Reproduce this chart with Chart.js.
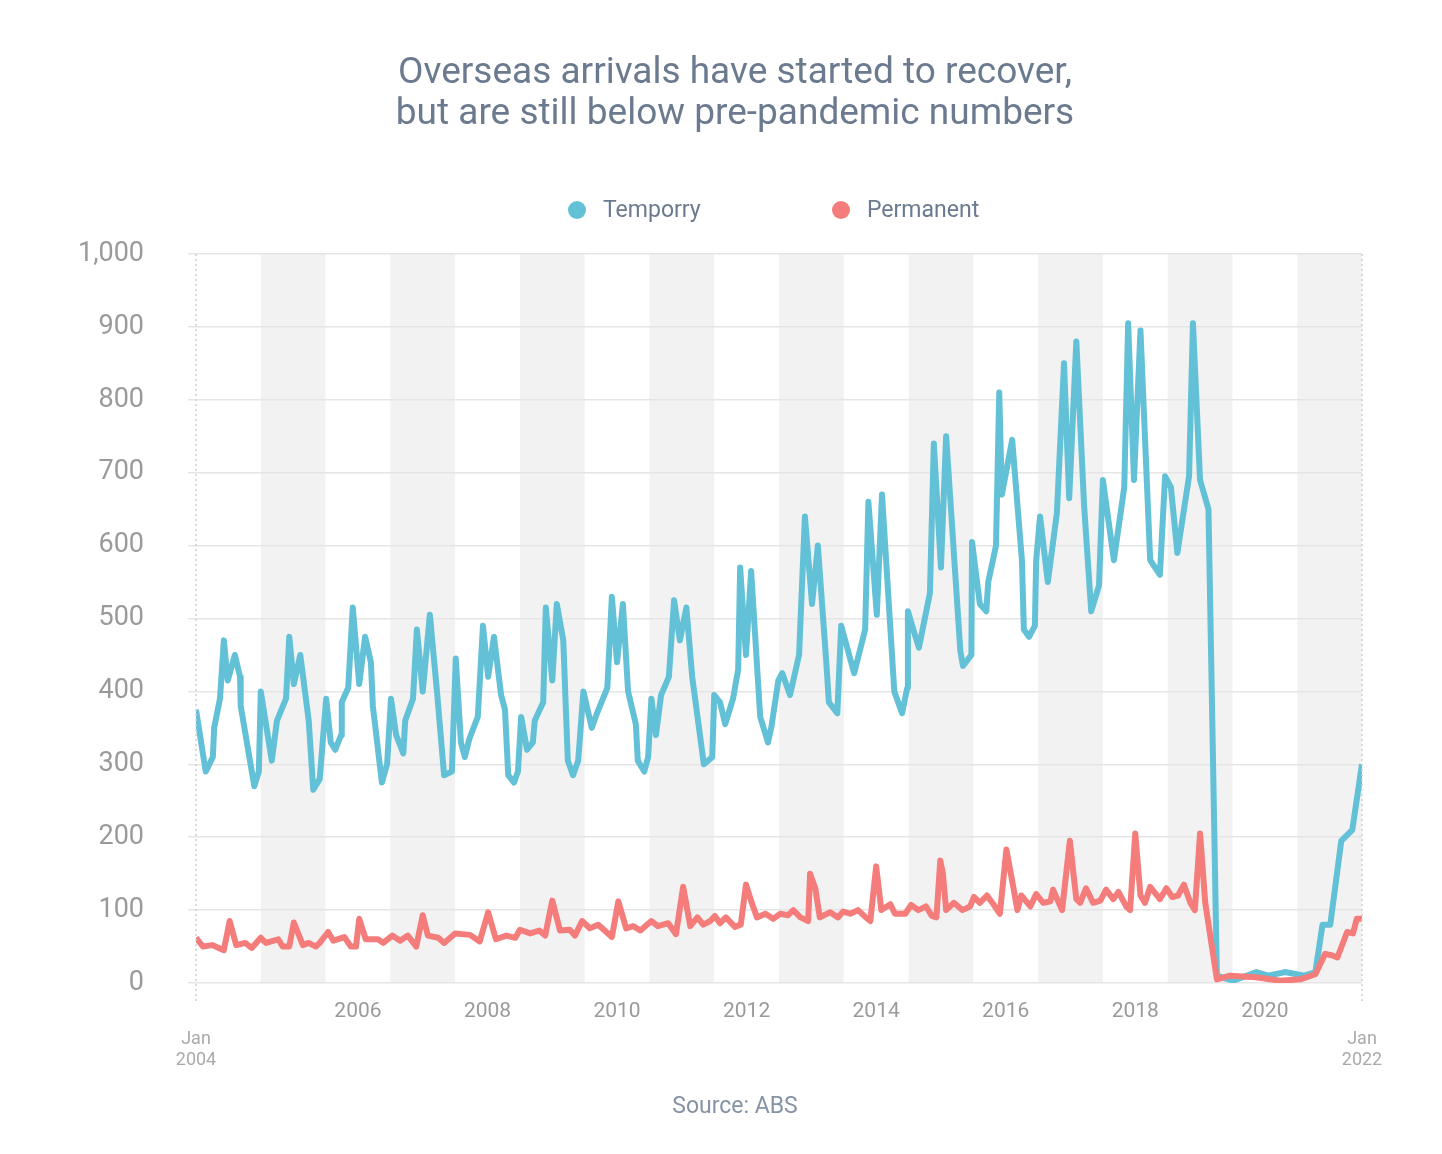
<!DOCTYPE html>
<html>
<head>
<meta charset="utf-8">
<script src="https://cdn.jsdelivr.net/npm/chart.js@4"></script>
<style>
  body { margin: 0; background: #fff; font-family: Roboto, sans-serif; }
  #wrap { position: relative; width: 1442px; height: 1154px; }
  canvas { position: absolute; left: 0; top: 0; }
  .t { position: absolute; color: #6b7a8f; white-space: nowrap; }
  #title { left: 0; width: 1470px; top: 50px; text-align: center; font-size: 37px; line-height: 41px; }
  .dot { position: absolute; width: 18px; height: 18px; border-radius: 50%; }
  .leg { font-size: 23px; top: 196px; }
  #source { left: 0; width: 1470px; top: 1092px; text-align: center; font-size: 23px; color: #8593a4; }
</style>
</head>
<body>
<div id="wrap">
  <canvas id="chart" width="1442" height="1154"></canvas>
  <div class="t" id="title">Overseas arrivals have started to recover,<br>but are still below pre-pandemic numbers</div>
  <div class="dot" style="left:568px;top:201px;background:#62c1d6"></div>
  <div class="t leg" style="left:603px">Temporry</div>
  <div class="dot" style="left:832px;top:201px;background:#f47d7b"></div>
  <div class="t leg" style="left:867px">Permanent</div>
  <div class="t" id="source">Source: ABS</div>
</div>
<script>
// Temporary arrivals (thousands), time in decimal years
const tempYears = [2004.00,2004.15,2004.26,2004.28,2004.37,2004.43,2004.49,2004.60,2004.68,2004.69,2004.90,2004.97,2005.00,2005.17,2005.25,2005.39,2005.44,2005.51,2005.61,2005.74,2005.81,2005.91,2006.01,2006.08,2006.15,2006.24,2006.25,2006.35,2006.42,2006.52,2006.61,2006.70,2006.73,2006.87,2006.95,2007.01,2007.09,2007.20,2007.23,2007.35,2007.41,2007.50,2007.61,2007.72,2007.83,2007.95,2008.01,2008.09,2008.15,2008.22,2008.35,2008.43,2008.51,2008.60,2008.71,2008.77,2008.82,2008.91,2008.97,2009.02,2009.11,2009.20,2009.23,2009.36,2009.40,2009.50,2009.57,2009.67,2009.74,2009.82,2009.90,2009.98,2010.11,2010.19,2010.35,2010.42,2010.50,2010.59,2010.67,2010.79,2010.82,2010.92,2010.98,2011.03,2011.10,2011.18,2011.30,2011.38,2011.47,2011.57,2011.66,2011.84,2011.97,2012.00,2012.09,2012.17,2012.29,2012.37,2012.40,2012.49,2012.57,2012.71,2012.83,2012.88,2012.99,2013.05,2013.17,2013.31,2013.40,2013.51,2013.60,2013.73,2013.77,2013.90,2013.96,2014.16,2014.33,2014.38,2014.51,2014.59,2014.78,2014.90,2014.98,2014.99,2015.09,2015.16,2015.33,2015.39,2015.50,2015.58,2015.80,2015.84,2015.97,2015.98,2016.10,2016.20,2016.23,2016.35,2016.40,2016.44,2016.60,2016.75,2016.78,2016.86,2016.95,2016.97,2017.03,2017.15,2017.29,2017.40,2017.48,2017.59,2017.71,2017.82,2017.94,2018.00,2018.17,2018.33,2018.39,2018.48,2018.58,2018.73,2018.88,2018.96,2019.05,2019.15,2019.33,2019.39,2019.50,2019.63,2019.76,2020.01,2020.37,2020.55,2020.81,2021.11,2021.28,2021.39,2021.51,2021.68,2021.85,2022.00];
const tempValues = [375,290,310,350,390,470,415,450,420,380,270,290,400,305,360,390,475,410,450,360,265,280,390,330,320,340,385,405,515,410,475,440,380,275,300,390,340,315,360,390,485,400,505,400,285,290,445,330,310,335,365,490,420,475,395,375,285,275,290,365,320,330,360,385,515,415,520,470,305,285,305,400,350,370,405,530,440,520,400,355,305,290,310,390,340,395,420,525,470,515,420,300,310,395,385,355,390,430,570,450,565,365,330,350,415,425,395,450,640,520,600,440,385,370,490,425,485,660,505,670,400,370,405,510,480,460,535,740,570,750,455,435,450,605,520,510,550,600,810,670,745,580,485,475,490,580,640,550,645,850,665,880,655,510,545,690,580,680,905,690,895,580,560,695,680,590,695,905,690,650,10,3,15,10,15,10,15,80,80,195,210,300];

// Permanent arrivals (thousands)
const permYears = [2004.00,2004.11,2004.25,2004.43,2004.52,2004.62,2004.76,2004.86,2005.00,2005.08,2005.27,2005.34,2005.44,2005.51,2005.65,2005.74,2005.85,2005.91,2006.04,2006.12,2006.29,2006.39,2006.47,2006.52,2006.62,2006.81,2006.89,2007.03,2007.15,2007.27,2007.40,2007.50,2007.58,2007.74,2007.83,2008.00,2008.23,2008.38,2008.51,2008.63,2008.79,2008.93,2009.00,2009.16,2009.30,2009.39,2009.50,2009.62,2009.77,2009.85,2009.96,2010.08,2010.21,2010.42,2010.52,2010.64,2010.75,2010.86,2011.03,2011.13,2011.29,2011.41,2011.52,2011.63,2011.74,2011.83,2011.94,2012.01,2012.09,2012.18,2012.32,2012.41,2012.49,2012.58,2012.66,2012.79,2012.91,2013.02,2013.14,2013.22,2013.33,2013.45,2013.48,2013.56,2013.63,2013.79,2013.91,2013.99,2014.10,2014.22,2014.34,2014.41,2014.50,2014.58,2014.72,2014.79,2014.95,2015.04,2015.15,2015.27,2015.36,2015.43,2015.49,2015.53,2015.58,2015.70,2015.83,2015.95,2016.01,2016.10,2016.21,2016.31,2016.41,2016.51,2016.60,2016.68,2016.74,2016.88,2016.97,2017.08,2017.19,2017.23,2017.37,2017.49,2017.59,2017.65,2017.74,2017.85,2017.96,2018.05,2018.16,2018.24,2018.36,2018.42,2018.50,2018.58,2018.65,2018.73,2018.88,2018.98,2019.07,2019.16,2019.25,2019.35,2019.42,2019.50,2019.58,2019.76,2019.96,2020.36,2020.74,2021.05,2021.28,2021.43,2021.53,2021.62,2021.77,2021.86,2021.92,2022.00];
const permValues = [62,50,52,45,85,52,55,48,62,55,60,50,50,83,52,55,50,55,70,58,63,50,50,88,60,60,55,65,58,65,50,93,65,62,55,68,66,57,97,60,65,62,73,68,72,65,113,72,73,65,85,75,80,63,112,75,78,72,85,78,82,67,132,78,90,80,85,92,82,90,77,80,135,110,90,95,88,95,93,100,90,85,150,130,90,97,90,98,95,100,90,85,160,100,108,95,95,107,100,105,92,90,168,150,100,110,100,105,118,110,120,108,95,183,140,100,120,105,122,110,112,128,100,195,115,110,130,110,113,128,115,125,105,100,205,120,110,132,115,130,118,120,135,110,100,205,110,5,10,8,3,5,12,40,38,35,70,68,88,88];

const yTicks = [0,100,200,300,400,500,600,700,800,900,1000];
const yearLabels = ['2006','2008','2010','2012','2014','2016','2018','2020'];
const labelPos = [2006.5,2008.5,2010.5,2012.5,2014.5,2016.5,2018.5,2020.5];
const bandStarts = [2005,2007,2009,2011,2013,2015,2017,2019,2021];

const decor = {
  id: 'decor',
  beforeDraw(chart) {
    const { ctx, chartArea: a, scales: { x } } = chart;
    ctx.save();
    ctx.fillStyle = '#f2f2f2';
    bandStarts.forEach(s => {
      const x1 = x.getPixelForValue(s), x2 = x.getPixelForValue(s + 1);
      ctx.fillRect(x1, a.top, x2 - x1, a.bottom - a.top);
    });
    ctx.restore();
  },
  afterDraw(chart) {
    const { ctx, chartArea: a, scales: { x } } = chart;
    ctx.save();
    ctx.strokeStyle = '#cfcfcf';
    ctx.lineWidth = 1.5;
    ctx.setLineDash([2, 3]);
    [2004, 2022].forEach(v => {
      const px = x.getPixelForValue(v);
      ctx.beginPath(); ctx.moveTo(px, a.top); ctx.lineTo(px, a.bottom + 18); ctx.stroke();
    });
    ctx.setLineDash([]);
    ctx.fillStyle = '#aaaaaa';
    ctx.font = '18px Roboto';
    ctx.textAlign = 'center';
    [[2004, '2004'], [2022, '2022']].forEach(([v, yr]) => {
      const px = x.getPixelForValue(v);
      ctx.fillText('Jan', px, a.bottom + 61);
      ctx.fillText(yr, px, a.bottom + 82);
    });
    ctx.restore();
  }
};

const pts = (xs, ys) => xs.map((v, i) => ({ x: v, y: ys[i] }));

new Chart(document.getElementById('chart'), {
  type: 'line',
  data: {
    datasets: [
      { label: 'Permanent', data: pts(permYears, permValues), borderColor: '#f47d7b', borderWidth: 6, pointRadius: 0, tension: 0, borderJoinStyle: 'round' },
      { label: 'Temporry', data: pts(tempYears, tempValues), borderColor: '#62c1d6', borderWidth: 6, pointRadius: 0, tension: 0, borderJoinStyle: 'round' }
    ]
  },
  options: {
    responsive: false,
    animation: false,
    layout: { padding: { top: 254, right: 80, bottom: 0, left: 0 } },
    plugins: { legend: { display: false }, tooltip: { enabled: false } },
    scales: {
      x: {
        type: 'linear', min: 2004, max: 2022,
        afterBuildTicks: s => { s.ticks = labelPos.map(v => ({ value: v })); },
        afterFit: s => { s.height = 171; },
        grid: { display: false },
        border: { display: false },
        ticks: {
          color: '#9a9a9a', font: { family: 'Roboto', size: 21 }, padding: 8, maxRotation: 0,
          callback: (v, i) => yearLabels[i]
        }
      },
      y: {
        min: 0, max: 1000,
        afterBuildTicks: s => { s.ticks = yTicks.map(v => ({ value: v })); },
        afterFit: s => { s.width = 196; },
        grid: { color: '#e5e5e5', lineWidth: 1.5 },
        border: { display: false },
        ticks: { color: '#9a9a9a', font: { family: 'Roboto', size: 27 }, padding: 44 }
      }
    }
  },
  plugins: [decor]
});
</script>
</body>
</html>
